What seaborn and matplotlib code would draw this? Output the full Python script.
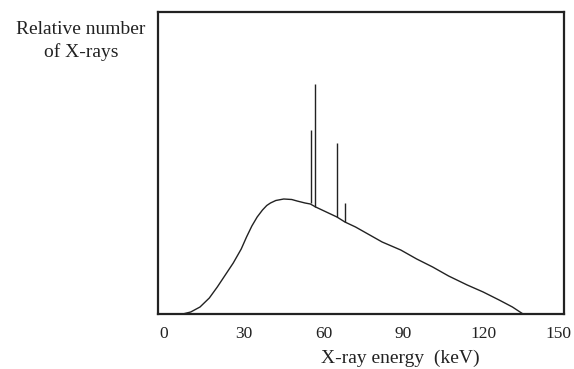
import numpy as np
import pandas as pd
import seaborn as sns
import matplotlib
matplotlib.use("Agg")
import matplotlib.pyplot as plt
from matplotlib.transforms import ScaledTranslation

# continuous bremsstrahlung spectrum
energy = [7, 10, 13.5, 17, 20, 23, 26, 29, 31, 33, 35, 37, 38.6, 40, 42, 45, 48, 50, 53, 55, 57,
          61, 65, 68, 72, 76, 82, 89, 95, 101, 107, 114, 120, 126, 131, 135]
counts = [0, 2, 7, 16, 27, 39, 51, 65, 77, 88, 97, 104, 108.5, 111, 113.5, 115, 114.5, 113, 111, 110, 107,
          102, 97, 92, 87, 81, 72, 64, 55, 47, 38, 29, 22, 14, 7, 0]

# characteristic lines
line_energy = [55.1, 56.8, 65.2, 68.0]
line_base = [111, 107, 97, 92]
line_top = [184, 230, 171, 111]

xticks = [0, 30, 60, 90, 120, 150]

sns.set_style("white")
plt.rcParams['font.family'] = ['Liberation Serif', 'DejaVu Serif']

fig = plt.figure(figsize=(5.74, 3.69), dpi=100)
ax = fig.add_axes([158 / 574, 1 - 314 / 369, 406 / 574, 302 / 369])

df = pd.DataFrame({"energy": energy, "counts": counts})
sns.lineplot(data=df, x="energy", y="counts", ax=ax, color="#222222", linewidth=1.0,
             solid_joinstyle="round")
ax.vlines(line_energy, line_base, line_top, color="#222222", linewidth=1.0)

ax.set_xlim(-2.3, 150.4)
ax.set_ylim(0, 302)
ax.set_xticks(xticks)
ax.set_xticklabels([str(t) for t in xticks], fontsize=12.5, color="#222222")
ax.set_yticks([])
ax.tick_params(axis="x", length=0, pad=9)
# keep the last label inside the canvas
last = ax.get_xticklabels()[-1]
last.set_transform(last.get_transform() + ScaledTranslation(-4 / 100, 0, fig.dpi_scale_trans))

for s in ax.spines.values():
    s.set_visible(True)
    s.set_color("#222222")
    s.set_linewidth(1.6)

ax.set_xlabel("X-ray energy  (keV)", fontsize=14, color="#222222")
ax.xaxis.set_label_coords((400 - 158) / 406, -(350 - 314) / 302)
ax.set_ylabel("Relative number\nof X-rays", fontsize=14, color="#222222",
              rotation=0, ha="center", va="top", multialignment="center", linespacing=1.35)
ax.yaxis.set_label_coords((81 - 158) / 406, 1 + (12 - 21) / 302)

fig.savefig("out.png", dpi=100)
